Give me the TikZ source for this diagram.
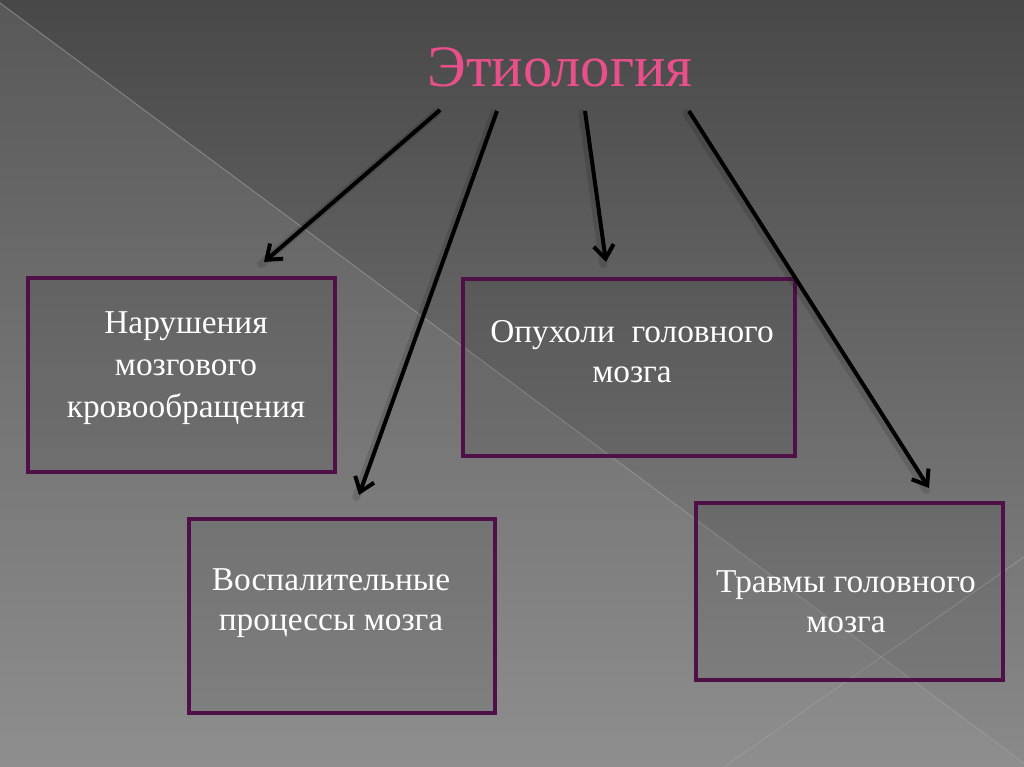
\documentclass[tikz,border=0pt]{standalone}
\usepackage{fontspec}
\setmainfont{Liberation Serif}
\newfontfamily\ttlfont{Liberation Serif}
\usetikzlibrary{arrows.meta}
\definecolor{bgtop}{HTML}{484848}
\definecolor{bgbot}{HTML}{8A8A8A}
\definecolor{tritop}{HTML}{585858}
\definecolor{tribot}{HTML}{8E8E8E}
\definecolor{boxpurple}{HTML}{4E1046}
\definecolor{titlepink}{HTML}{EA4F8C}
\definecolor{seam}{HTML}{A0A0A0}
\begin{document}
\begin{tikzpicture}[x=0.75pt,y=-0.75pt,
  box/.style={draw=boxpurple, line width=2.8pt, fill=black, fill opacity=0.08,
    inner sep=0pt, outer sep=0pt},
  lbl/.style={text=white, font=\ttlfont\fontsize{25}{31.5}\selectfont, align=center, anchor=base},
  ttl/.style={font=\ttlfont\fontsize{44}{50}\selectfont, anchor=base, inner sep=0pt},
  arr/.style={line width=3pt, black, -{Straight Barb[length=10pt,width=15pt]}},
  arrshadow/.style={line width=6pt, black, opacity=0.12, line cap=round},
  seamline/.style={draw=seam, line width=0.6pt, opacity=0.7}
]
\useasboundingbox (0,0) rectangle (1024,767);
% background
\shade[top color=bgtop, bottom color=bgbot] (0,0) rectangle (1024,767);
\shade[top color=tritop, bottom color=tribot] (0,3) -- (1024,763) -- (1024,767) -- (0,767) -- cycle;
\draw[seamline] (0,3) -- (1024,763);
\draw[seamline] (1024,557) -- (724,767);

% title
\node[ttl, text=titlepink] (title) at (560,87) {Этиология};

% boxes
\node[box, minimum width=230.25pt, minimum height=145.5pt] (b1) at (181.5,375) {};
\node[box, minimum width=229.5pt, minimum height=145.5pt] (b2) at (342,616) {};
\node[box, minimum width=249pt, minimum height=132.75pt] (b3) at (629,367.5) {};
\node[box, minimum width=230.25pt, minimum height=132.75pt] (b4) at (849.5,591.5) {};

% texts (base anchor = baseline of the last line)
\node[lbl] (t1) at (186,417) {Нарушения\\мозгового\\кровообращения};
\node[lbl, font=\ttlfont\fontsize{25}{30}\selectfont] (t2) at (331,630) {Воспалительные\\процессы мозга};
\node[lbl, font=\ttlfont\fontsize{25}{30}\selectfont] (t3) at (632,382) {Опухоли~ головного\\мозга};
\node[lbl, font=\ttlfont\fontsize{25}{30}\selectfont] (t4) at (846,632) {Травмы головного\\мозга};

% arrow end points
\coordinate (s1) at (440,110);
\coordinate (e1) at (264,262);
\coordinate (s2) at (497,111);
\coordinate (e2) at (359,495);
\coordinate (s3) at (585,111);
\coordinate (e3) at (606,262);
\coordinate (s4) at (689,111);
\coordinate (e4) at (929,488);

\begin{scope}[transform canvas={shift={(-2pt,-1.5pt)}}]
\draw[arrshadow] (s1) -- (e1);
\draw[arrshadow] (s2) -- (e2);
\draw[arrshadow] (s3) -- (e3);
\draw[arrshadow] (s4) -- (e4);
\end{scope}
\draw[arr] (s1) -- (e1);
\draw[arr] (s2) -- (e2);
\draw[arr] (s3) -- (e3);
\draw[arr] (s4) -- (e4);
\end{tikzpicture}
\end{document}
